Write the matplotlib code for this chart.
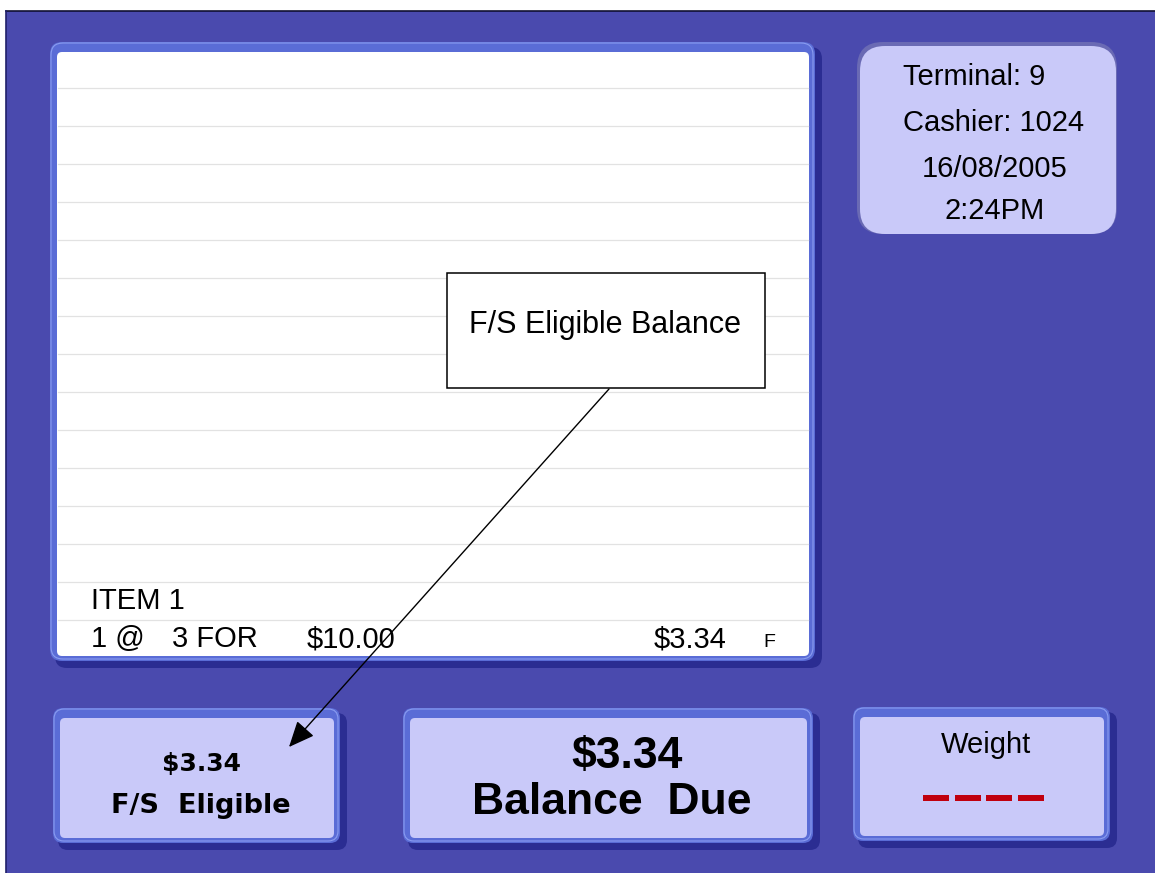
import matplotlib
matplotlib.use('Agg')
import matplotlib.pyplot as plt
from matplotlib.patches import FancyBboxPatch, Rectangle, FancyArrowPatch

########################################################### DATA ###############################################################################
info_left = ['Terminal: 9', 'Cashier: 1024']
info_center = ['16/08/2005', '2:24PM']
item_name = 'ITEM 1'
item_parts = ['1 @', '3 FOR', '$10.00']
item_price = '$3.34'
item_flag = 'F'
fs_amount = '$3.34'
fs_label = 'F/S  Eligible'
due_amount = '$3.34'
due_label = 'Balance  Due'
weight_label = 'Weight'
weight_dashes = 4
callout_text = 'F/S Eligible Balance'
n_rules = 15

########################################################### STYLE ###############################################################################
BG = '#4a4aae'
LAV = '#c9c9f9'
FRAME = '#5a6cd6'
FRAME_DARK = '#2b2d92'
FRAME_HI = '#8a9cf0'
FONT = 'Liberation Sans'


def framed(ax, x0, y0, x1, y1, inner_fc, r=10):
    # dark rim bottom/right, bright rim top/left, then the face
    ax.add_patch(FancyBboxPatch((x0 + 5, y0 + 5), x1 - x0 - 5, y1 - y0 - 5,
                                boxstyle='round,pad=0,rounding_size=%d' % r, fc=FRAME_DARK, ec='none'))
    ax.add_patch(FancyBboxPatch((x0, y0), x1 - x0 - 7, y1 - y0 - 7,
                                boxstyle='round,pad=0,rounding_size=%d' % r, fc=FRAME, ec='none'))
    ax.add_patch(FancyBboxPatch((x0 + 1, y0 + 1), x1 - x0 - 10, y1 - y0 - 10,
                                boxstyle='round,pad=0,rounding_size=%d' % r, fc='none', ec=FRAME_HI, lw=0.8))
    ax.add_patch(FancyBboxPatch((x0 + 7, y0 + 10), x1 - x0 - 20, y1 - y0 - 22,
                                boxstyle='round,pad=0,rounding_size=5', fc=inner_fc, ec='none'))


fig = plt.figure(figsize=(11.55, 8.73), dpi=100, facecolor='white')
ax = fig.add_axes([0, 0, 1, 1])
ax.set_xlim(0, 1155)
ax.set_ylim(873, 0)
ax.axis('off')

# screen background
ax.add_patch(Rectangle((6, 11), 1149, 862, fc=BG, ec='none'))
ax.plot([6, 1155], [11, 11], color='#101030', lw=1.2)
ax.plot([6, 6], [11, 873], color='#20206a', lw=1.2)

# receipt list
framed(ax, 50, 42, 822, 668, 'white', r=12)
for k in range(n_rules):
    ax.plot([58, 808], [88 + 38 * k, 88 + 38 * k], color='#e2e2e2', lw=0.9, zorder=1.5)

ax.text(91, 609, item_name, ha='left', va='baseline', fontsize=21, family=FONT)
for part, x in zip(item_parts, [91, 172, 307]):
    ax.text(x, 647, part, ha='left', va='baseline', fontsize=21, family=FONT)
ax.text(727, 647, item_price, ha='right', va='baseline', fontsize=21, family=FONT)
ax.text(769, 647, item_flag, ha='center', va='baseline', fontsize=14, family=FONT)

# terminal info
ax.add_patch(FancyBboxPatch((857, 42), 260, 192, boxstyle='round,pad=0,rounding_size=26',
                            fc='#6a6ab4', ec='none'))
ax.add_patch(FancyBboxPatch((860, 46), 256, 188, boxstyle='round,pad=0,rounding_size=25',
                            fc=LAV, ec='none'))
for i, s in enumerate(info_left):
    ax.text(903, 85 + 46 * i, s, ha='left', va='baseline', fontsize=21, family=FONT)
for i, s in enumerate(info_center):
    ax.text(995, 177 + 42 * i, s, ha='center', va='baseline', fontsize=21, family=FONT)

# bottom buttons
framed(ax, 53, 708, 347, 850, LAV)
ax.text(201, 771, fs_amount, ha='center', va='baseline', fontsize=18, family='DejaVu Sans', weight='bold')
ax.text(201, 813, fs_label, ha='center', va='baseline', fontsize=19.5, family='DejaVu Sans', weight='bold')

framed(ax, 403, 708, 820, 850, LAV)
ax.text(627, 768, due_amount, ha='center', va='baseline', fontsize=32, family=FONT, weight='bold')
ax.text(612, 814, due_label, ha='center', va='baseline', fontsize=32, family=FONT, weight='bold')

framed(ax, 853, 707, 1117, 848, LAV)
ax.text(986, 753, weight_label, ha='center', va='baseline', fontsize=21, family=FONT)
for k in range(weight_dashes):
    ax.add_patch(Rectangle((923 + 31.5 * k, 795), 26, 6, fc='#c0000e', ec='none'))

# callout on top of everything
ax.add_patch(Rectangle((447, 273), 318, 115, fc='white', ec='black', lw=1.1, zorder=5))
ax.text(605, 333, callout_text, ha='center', va='baseline', fontsize=22, family=FONT, zorder=6)
ax.add_patch(FancyArrowPatch((609, 389), (289, 747), arrowstyle='-|>,head_length=0.8,head_width=0.35',
                             mutation_scale=20, lw=1.0, color='black', shrinkA=0, shrinkB=0, zorder=6))

plt.savefig('out.png', dpi=100, facecolor=fig.get_facecolor())
